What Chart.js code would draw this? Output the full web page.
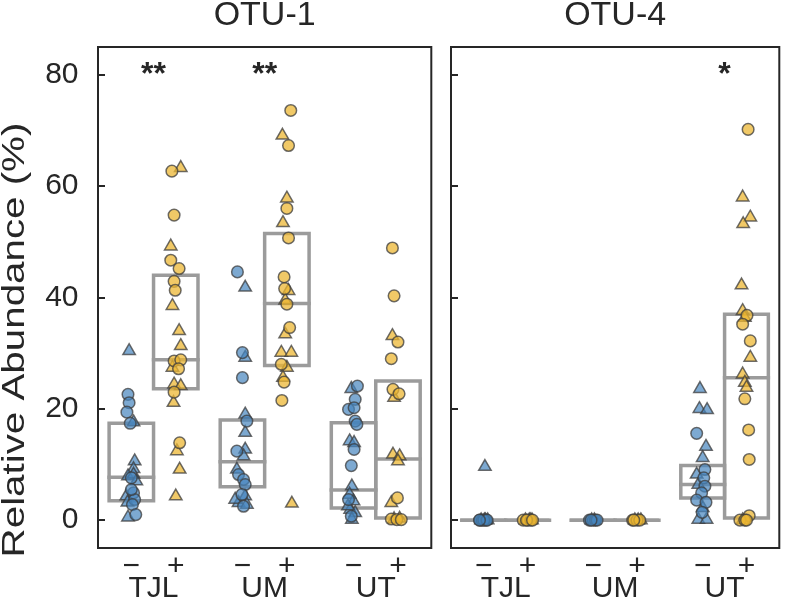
<!DOCTYPE html>
<html>
<head>
<meta charset="utf-8">
<script src="https://cdn.jsdelivr.net/npm/chart.js@4.4.1/dist/chart.umd.min.js"></script>
<style>
  html, body { margin: 0; padding: 0; background: #fff; }
  #wrap { position: relative; width: 788px; height: 601px; }
  canvas { position: absolute; top: 0; }
</style>
</head>
<body>
<div id="wrap">
  <canvas id="otu1" width="440" height="601" style="left:0px"></canvas>
  <canvas id="otu4" width="348" height="601" style="left:440px"></canvas>
</div>
<script>
//------ DONNEES ---------------------------//

const groups = ['TJL', 'UM', 'UT'];
const signs = ['−', '+'];
const yTicks = [0, 20, 40, 60, 80];
const yTitle = 'Relative Abundance (%)';

// un point = [forme ('o' rond, '^' triangle), décalage horizontal (jitter), valeur en %]
const otu1TJLminus = [['^',-0.02,30.4],['o',-0.03,22.6],['o',-0.02,21.1],['o',-0.04,19.4],['o',-0.01,17.4],['^',0.02,17.6],['^',0.03,10.6],['^',0.02,9.2],['^',-0.03,7.9],['^',0.02,8.2],['o',0.0,7.6],['^',0.045,7.0],['o',0.02,4.9],['^',-0.045,4.3],['o',0.03,3.7],['o',0.01,2.8],['^',-0.035,3.2],['o',0.04,1.0],['^',-0.03,0.5],['o',0.0,5.5]];
const otu1TJLplus = [['o',-0.035,62.7],['^',0.045,63.3],['o',-0.015,54.8],['^',-0.045,49.2],['o',-0.045,46.7],['o',0.03,45.2],['o',-0.015,42.9],['o',-0.005,41.3],['^',-0.03,38.5],['^',0.03,34.0],['^',0.045,31.3],['o',-0.015,28.6],['o',0.045,28.8],['^',-0.03,27.4],['o',0.025,27.2],['^',-0.015,24.4],['^',0.045,24.1],['o',-0.015,23.0],['^',-0.02,21.1],['o',0.035,13.9],['^',0.01,12.4],['^',0.035,9.1],['^',0.0,4.3]];
const otu1UMminus = [['o',-0.045,44.6],['^',0.025,41.8],['o',0.0,30.1],['^',0.025,29.2],['o',0.0,25.6],['^',0.025,19.0],['o',0.04,17.8],['^',0.025,15.7],['o',-0.05,12.4],['^',0.025,12.7],['^',0.01,11.5],['^',-0.05,9.1],['o',-0.035,8.2],['o',0.01,7.3],['o',0.025,6.4],['^',0.025,4.3],['o',-0.005,4.6],['^',-0.035,3.1],['^',0.04,2.8],['o',0.01,2.5],['^',-0.065,3.7]];
const otu1UMplus = [['o',0.035,73.6],['^',-0.04,69.1],['o',0.015,67.3],['^',0.0,57.8],['o',0.0,56.0],['^',-0.035,53.4],['o',0.015,50.7],['o',-0.025,43.7],['o',-0.02,41.6],['^',0.015,41.2],['o',0.0,38.8],['^',-0.015,39.5],['o',0.025,34.6],['^',-0.015,33.4],['^',-0.05,30.1],['^',0.04,30.1],['o',-0.05,28.0],['^',0.0,27.4],['^',-0.035,25.6],['o',-0.025,24.8],['o',-0.045,21.5],['^',0.045,3.0]];
const otu1UTminus = [['o',0.035,24.1],['^',-0.02,23.6],['o',0.015,21.7],['o',-0.045,19.9],['o',0.005,20.2],['o',0.015,17.8],['o',0.03,17.2],['^',-0.035,14.2],['^',0.005,13.9],['o',0.005,12.7],['o',-0.02,9.8],['^',-0.015,6.1],['^',-0.035,4.6],['o',-0.045,3.7],['^',0.0,3.4],['^',-0.03,1.9],['^',0.015,1.3],['o',-0.02,0.7],['^',-0.015,0.1],['^',-0.05,2.5]];
const otu1UTplus = [['o',-0.05,48.9],['o',-0.035,40.3],['^',-0.05,33.1],['o',0.0,32.0],['o',-0.06,29.0],['o',-0.045,23.5],['o',0.01,22.7],['^',-0.035,22.0],['^',-0.045,11.8],['^',0.015,11.5],['^',0.0,10.6],['o',-0.005,4.0],['^',-0.06,3.1],['o',-0.06,0.2],['o',-0.01,0.1],['^',-0.035,0.2],['o',0.03,0.1],['^',0.015,0.3]];

const otu4TJLminus = [['^',0.01,9.6],['o',-0.035,0],['o',-0.015,0],['^',0.005,0],['o',0.02,0],['^',0.035,0],['o',0.0,0],['^',-0.025,0],['o',0.03,0],['o',-0.04,0],['^',0.015,0]];
const otu4TJLplus = [['o',-0.04,0],['^',-0.02,0],['o',0.0,0],['^',0.015,0],['o',0.03,0],['^',0.04,0],['o',-0.01,0],['^',0.025,0],['o',0.045,0]];
const otu4UMminus = [['o',-0.035,0],['^',-0.015,0],['o',0.0,0],['o',0.02,0],['^',0.01,0],['o',0.035,0],['o',-0.02,0]];
const otu4UMplus = [['o',-0.04,0],['^',-0.02,0],['o',0.0,0],['^',0.01,0],['o',0.025,0],['^',0.035,0],['o',-0.03,0]];
const otu4UTminus = [['^',-0.025,23.6],['^',-0.03,20.0],['^',0.04,19.8],['o',-0.055,15.6],['^',0.03,13.2],['^',0.0,11.2],['o',0.02,9.1],['^',-0.055,8.2],['o',0.01,7.6],['^',-0.04,6.4],['o',0.02,6.1],['o',-0.01,4.9],['o',-0.055,3.6],['o',0.03,3.2],['^',0.0,2.2],['^',-0.04,0.1],['^',0.035,0.1],['o',-0.005,1.4]];
const otu4UTplus = [['o',0.015,70.2],['^',-0.035,58.0],['^',0.035,54.4],['^',-0.03,53.2],['^',-0.045,42.2],['^',-0.035,37.6],['o',0.005,36.8],['^',-0.015,36.4],['o',-0.035,35.2],['o',0.035,32.2],['^',0.035,29.2],['^',-0.035,26.2],['^',-0.015,24.7],['^',0.0,23.8],['o',-0.015,21.8],['o',0.02,16.2],['o',0.025,10.9],['o',0.025,0.8],['o',-0.06,0],['^',-0.035,0],['o',-0.015,0],['o',0.0,0]];

// boîtes (ordre : TJL−, TJL+, UM−, UM+, UT−, UT+)
const otu1Q1 = [3.5, 23.6, 6.0, 27.8, 2.2, 0.4];
const otu1Median = [7.7, 28.8, 10.5, 38.9, 5.4, 11.0];
const otu1Q3 = [17.4, 44.0, 18.0, 51.5, 17.5, 25.0];
const otu4Q1 = [0, 0, 0, 0, 4.0, 0.4];
const otu4Median = [0, 0, 0, 0, 6.4, 25.6];
const otu4Q3 = [0, 0, 0, 0, 9.8, 37.0];

// étoiles de significativité par groupe
const otu1Stars = ['**', '**', ''];
const otu4Stars = ['', '', '*'];
const starLevel = 80;

//------ STYLE --------//

const FONT = '"Liberation Sans", Arial, sans-serif';
const INK = '#262626';
const BOX = '#9b9b9b';
const blueFill = 'rgba(70,132,190,0.7)';
const goldFill = 'rgba(236,182,50,0.74)';
const edge = 'rgba(60,60,60,0.75)';

// position de chaque sous-catégorie (− à gauche, + à droite du groupe)
function subX(i) {
  return Math.floor(i / 2) + (i % 2 ? 0.2 : -0.2);
}
const subPositions = [0, 1, 2, 3, 4, 5].map(subX);

function pointSets(panel) {
  const sets = [];
  [['o', 'circle', 5.8], ['^', 'triangle', 7.2]].forEach(([code, style, r]) => {
    [0, 1].forEach(sign => {
      const data = [];
      panel.forEach((pts, i) => {
        if (i % 2 !== sign) return;
        pts.forEach(p => {
          if (p[0] === code) data.push({ x: subX(i) + p[1], y: p[2] });
        });
      });
      sets.push({
        data: data,
        pointStyle: style,
        pointRadius: r,
        backgroundColor: sign ? goldFill : blueFill,
        borderColor: edge,
        borderWidth: 1.5,
        order: 1
      });
    });
  });
  return sets;
}

function lineSet(data) {
  return {
    data: data,
    showLine: true,
    borderColor: BOX,
    borderWidth: 3.5,
    pointRadius: 0,
    borderJoinStyle: 'miter',
    borderCapStyle: 'square',
    fill: false,
    tension: 0,
    order: 2
  };
}

function boxSets(q1, med, q3) {
  const sets = [];
  q1.forEach((lo, i) => {
    const x0 = i % 2 ? Math.floor(i / 2) : Math.floor(i / 2) - 0.4;
    const x1 = x0 + 0.4;
    const hi = q3[i];
    sets.push(lineSet([{x: x0, y: lo}, {x: x1, y: lo}, {x: x1, y: hi}, {x: x0, y: hi}, {x: x0, y: lo}]));
    sets.push(lineSet([{x: x0, y: med[i]}, {x: x1, y: med[i]}]));
  });
  return sets;
}

// cadre, graduations vers l'intérieur, étoiles et titre vertical
const framePlugin = {
  id: 'frame',
  afterDatasetsDraw(chart, args, opts) {
    const { ctx, chartArea: a, scales } = chart;
    ctx.save();
    ctx.strokeStyle = INK;
    ctx.lineWidth = 2;
    ctx.strokeRect(a.left, a.top, a.right - a.left, a.bottom - a.top);
    scales.y.ticks.forEach(t => {
      const py = Math.round(scales.y.getPixelForValue(t.value));
      ctx.beginPath();
      ctx.moveTo(a.left, py);
      ctx.lineTo(a.left + 7, py);
      ctx.stroke();
    });
    ctx.fillStyle = INK;
    ctx.font = 'bold 32px ' + FONT;
    ctx.textAlign = 'center';
    ctx.textBaseline = 'middle';
    opts.stars.forEach((s, g) => {
      if (s) ctx.fillText(s, scales.x.getPixelForValue(g), scales.y.getPixelForValue(starLevel));
    });
    if (opts.yTitle) {
      // le titre vertical est étiré dans le sens du texte, comme sur la figure
      ctx.translate(23.5, 340);
      ctx.rotate(-Math.PI / 2);
      ctx.scale(1.26, 1);
      ctx.font = '32px ' + FONT;
      ctx.textBaseline = 'alphabetic';
      ctx.fillText(opts.yTitle, 0, 0);
    }
    ctx.restore();
  }
};

function makeChart(id, title, panel, q1, med, q3, stars, withLabels) {
  const tickFont = { family: FONT, size: 30, lineHeight: 1 };
  return new Chart(document.getElementById(id).getContext('2d'), {
    type: 'scatter',
    data: { datasets: pointSets(panel).concat(boxSets(q1, med, q3)) },
    plugins: [framePlugin],
    options: {
      responsive: false,
      animation: false,
      devicePixelRatio: 1,
      events: [],
      layout: { padding: { left: 0, right: withLabels ? 7 : 2, top: 0, bottom: 0 } },
      plugins: {
        legend: { display: false },
        tooltip: { enabled: false },
        title: {
          display: true, text: title, color: INK, fullSize: false,
          font: { family: FONT, size: 34, weight: 'normal', lineHeight: 0.9 },
          padding: { top: 0, bottom: 16.4 }
        },
        frame: { stars: stars, yTitle: withLabels ? yTitle : '' }
      },
      scales: {
        x: {
          type: 'linear', min: -0.5, max: 2.5, position: 'bottom', weight: 0,
          afterBuildTicks: s => { s.ticks = subPositions.map(v => ({ value: v })); },
          afterFit: s => { s.height = 26; },
          grid: { display: false, drawTicks: false },
          border: { display: false },
          ticks: { autoSkip: false, maxRotation: 0, padding: 4, color: INK, font: tickFont,
                   callback: (v, i) => signs[i % 2] }
        },
        xg: {
          type: 'linear', min: -0.5, max: 2.5, position: 'bottom', weight: 1,
          afterBuildTicks: s => { s.ticks = groups.map((g, i) => ({ value: i })); },
          afterFit: s => { s.height = 27; },
          grid: { display: false, drawTicks: false },
          border: { display: false },
          ticks: { autoSkip: false, maxRotation: 0, padding: 0, color: INK, font: tickFont,
                   callback: (v, i) => groups[i] }
        },
        y: {
          min: -5, max: 85,
          afterBuildTicks: s => { s.ticks = yTicks.map(v => ({ value: v })); },
          afterFit: s => { s.width = withLabels ? 98 : 11; },
          grid: { display: false, drawTicks: false },
          border: { display: false },
          ticks: { display: withLabels, padding: 19.5, color: INK, font: tickFont }
        }
      }
    }
  });
}

const otu1Points = [otu1TJLminus, otu1TJLplus, otu1UMminus, otu1UMplus, otu1UTminus, otu1UTplus];
const otu4Points = [otu4TJLminus, otu4TJLplus, otu4UMminus, otu4UMplus, otu4UTminus, otu4UTplus];

makeChart('otu1', 'OTU-1', otu1Points, otu1Q1, otu1Median, otu1Q3, otu1Stars, true);
makeChart('otu4', 'OTU-4', otu4Points, otu4Q1, otu4Median, otu4Q3, otu4Stars, false);
</script>
</body>
</html>
